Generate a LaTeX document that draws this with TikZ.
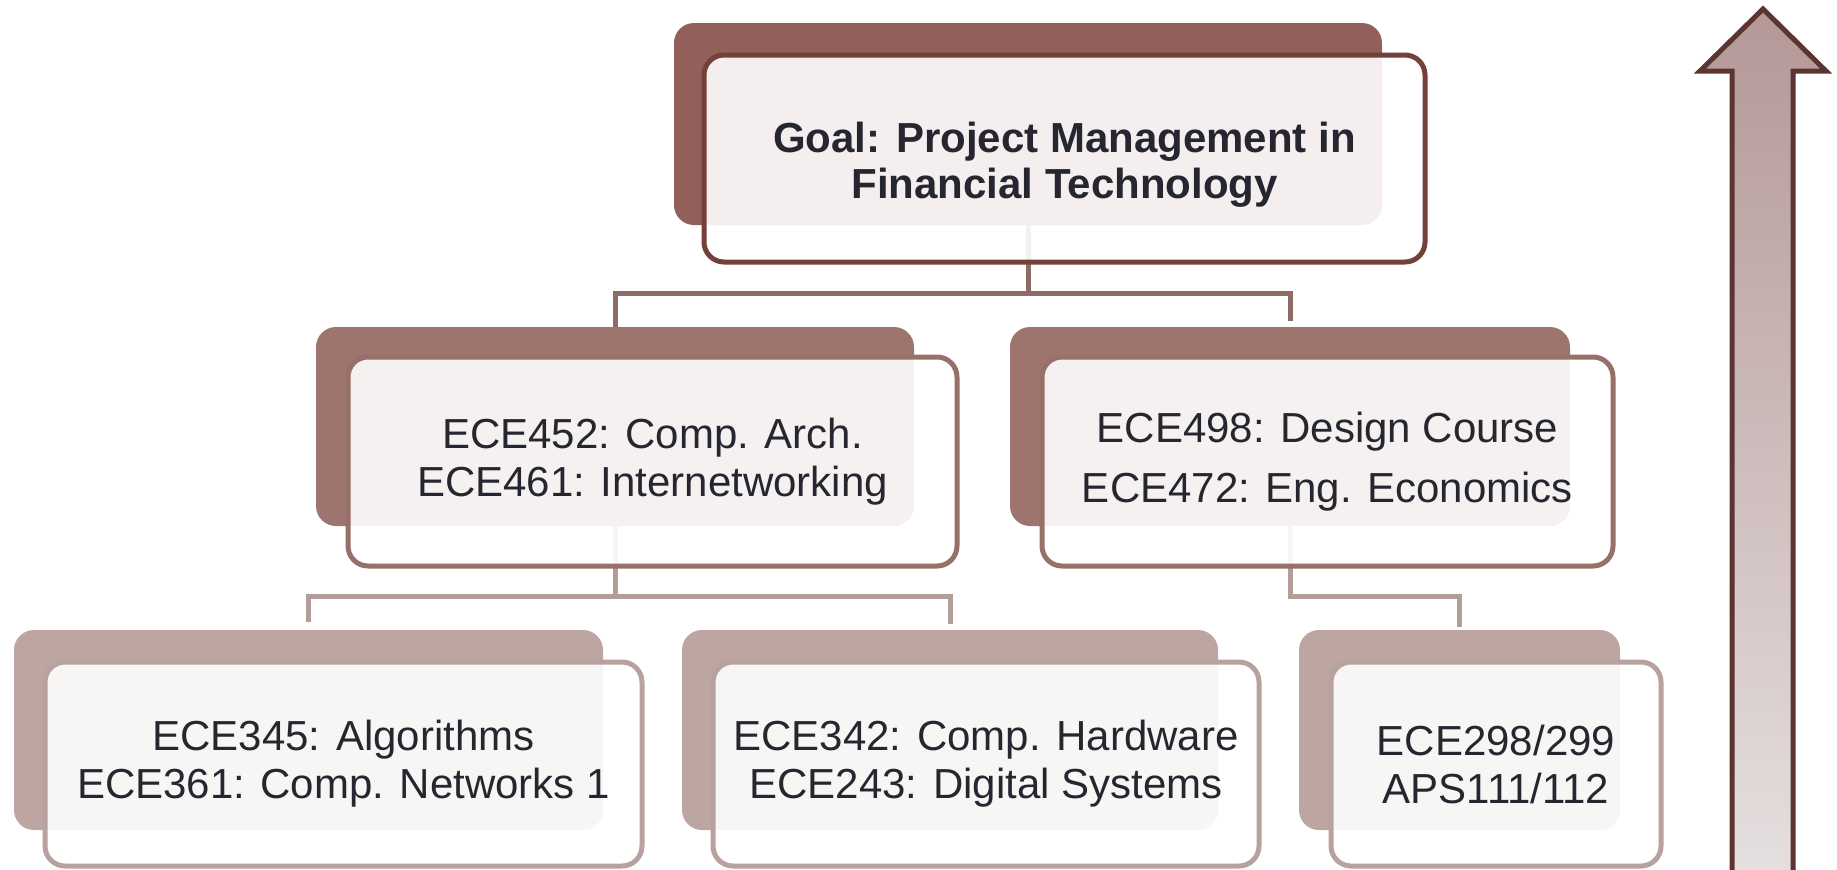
\documentclass[tikz,border=0pt]{standalone}
\usepackage{fontspec}
\setmainfont{Liberation Sans}
\definecolor{txt}{HTML}{262630}
\definecolor{bkA}{HTML}{935F5A}
\definecolor{bkB}{HTML}{9E746E}
\definecolor{bkC}{HTML}{BDA5A1}
\definecolor{lnA}{HTML}{73413A}
\definecolor{lnB}{HTML}{967069}
\definecolor{lnC}{HTML}{B8A29F}
\definecolor{cnA}{HTML}{8E6C66}
\definecolor{cnB}{HTML}{B39D99}
\definecolor{arrln}{HTML}{5C3430}
\definecolor{arrtop}{HTML}{B39896}
\definecolor{arrbot}{HTML}{E6E0E0}
\tikzset{
  base/.style={rectangle, rounded corners=10pt, inner sep=0pt, outer sep=0pt, align=center, text=txt},
  backA/.style={base, fill=bkA},
  backB/.style={base, fill=bkB},
  backC/.style={base, fill=bkC},
  frontA/.style={base, draw=lnA, line width=2.5pt, fill=white, fill opacity=0.9, text opacity=1},
  frontB/.style={base, draw=lnB, line width=2.5pt, fill=white, fill opacity=0.9, text opacity=1},
  frontC/.style={base, draw=lnC, line width=2.5pt, fill=white, fill opacity=0.9, text opacity=1},
  fTitle/.style={font=\bfseries\fontsize{21pt}{23pt}\selectfont},
  fLoose/.style={font=\fontsize{21pt}{30pt}\selectfont},
  fMid/.style={font=\fontsize{21pt}{24pt}\selectfont},
  connA/.style={draw=cnA, line width=2.5pt},
  connB/.style={draw=cnB, line width=2.5pt},
  arrowshape/.style={draw=arrln, line width=2.5pt, top color=arrtop, bottom color=arrbot}
}
\newcommand\placebox[7]{\node[#2, minimum width={(#5-#3)*0.5pt}, minimum height={(#6-#4)*0.5pt}] (#1) at ({(#3+#5)/2},{(#4+#6)/2}) {#7};}
\begin{document}
\begin{tikzpicture}[x=0.5pt, y=-0.5pt]
\path[use as bounding box] (0,0) rectangle (1837,869);
\clip (0,0) rectangle (1837,869);
% back shapes
\placebox{goalbk}{backA}{674}{23}{1382}{225}{}
\placebox{midLbk}{backB}{316}{327}{914}{526}{}
\placebox{midRbk}{backB}{1010}{327}{1570}{526}{}
\placebox{botLbk}{backC}{14}{630}{603}{830}{}
\placebox{botMbk}{backC}{682}{630}{1218}{830}{}
\placebox{botRbk}{backC}{1299}{630}{1620}{830}{}
% connectors
\coordinate (busA) at (0,293);
\coordinate (busB) at (0,596);
\draw[connA] (goalbk.south) -- (goalbk.south |- busA);
\draw[connA, shorten >=3pt] (midLbk.north) ++(0,-8) -- (midLbk.north |- busA) -- (midRbk.north |- busA) -- (midRbk.north);
\draw[connA] (midLbk.north) -- ++(0,-8);
\draw[connB] (midLbk.south) -- (midLbk.south |- busB);
\draw[connB, shorten >=3pt] (botLbk.north) ++(0,-8) -- (botLbk.north |- busB) -- (botMbk.north |- busB) -- (botMbk.north);
\draw[connB] (midRbk.south) -- (midRbk.south |- busB) -- (botRbk.north |- busB) -- ([yshift=1.5pt]botRbk.north);
% front boxes
\placebox{goal}{frontA}{704}{55}{1425}{262}{}
\node[fTitle, text=txt, align=center] (goaltext) at ([yshift=-3pt]goal.center) {Goal: Project Management in\\Financial Technology};
\placebox{midL}{frontB,fMid}{348}{357}{957}{566}{ECE452: Comp. Arch.\\ECE461: Internetworking}
\placebox{midR}{frontB,fLoose}{1042}{357}{1613}{566}{ECE498: Design Course\\ECE472: Eng. Economics}
\placebox{botL}{frontC,fMid}{45}{662}{642}{866}{ECE345: Algorithms\\ECE361: Comp. Networks 1}
\placebox{botM}{frontC,fMid}{713}{662}{1259}{866}{ECE342: Comp. Hardware\\ECE243: Digital Systems}
\placebox{botR}{frontC,fMid}{1331}{662}{1661}{866}{ECE298/299\\APS111/112}
% big arrow
\path[arrowshape] (1732,885) -- (1732,71) -- (1700,71) -- (1763,9) -- (1826,71) -- (1793,71) -- (1793,885) -- cycle;
\end{tikzpicture}
\end{document}
